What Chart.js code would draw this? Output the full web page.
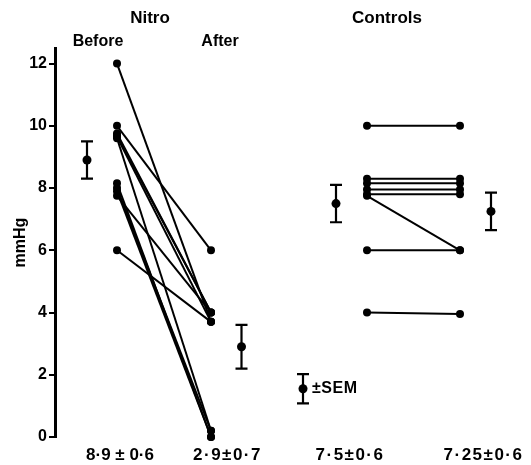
<!DOCTYPE html>
<html><head><meta charset="utf-8">
<script src="https://cdn.jsdelivr.net/npm/chart.js@4.4.0/dist/chart.umd.min.js"></script>
<style>html,body{margin:0;padding:0;background:#fff}</style>
</head><body><canvas id="c" width="531" height="465"></canvas>
<script>
// ---- data ----
const yTicks = [0, 2, 4, 6, 8, 10, 12];
const nitroBefore = [12.0, 10.0, 9.75, 9.7, 9.65, 9.6, 8.15, 8.0, 7.9, 7.75, 6.0];
const nitroAfter  = [3.7, 6.0, 4.0, 4.0, 3.7, 0.2, 0.0, 0.2, 0.0, 4.0, 3.7];
const ctrlBefore  = [10.0, 8.3, 8.15, 7.95, 7.8, 7.75, 6.0, 4.0];
const ctrlAfter   = [10.0, 8.3, 8.15, 7.95, 7.8, 6.0, 6.0, 3.95];
const groupMeans  = [8.9, 2.9, 7.5, 7.25];
const groupSEM    = [0.6, 0.7, 0.6, 0.6];
const summaryLabels = ['8·9 ± 0·6', '2·9±0·7', '7·5±0·6', '7·25±0·6'];
const semKeyMean = 1.55, semKeyHalf = 0.47;
const semKeyText = '±SEM';
const groupTitles = ['Nitro', 'Controls'];
const phaseTitles = ['Before', 'After'];

// ---- layout slots on the (hidden) x scale ----
const X = {nitroMean: 3.2, nitroBefore: 6.2, nitroAfter: 15.6, nitroAfterMean: 18.65,
           semKey: 24.8, ctrlMean: 28.1, ctrlBefore: 31.2, ctrlAfter: 40.5, ctrlAfterMean: 43.6};
const meanSlots = ['nitroMean', 'nitroAfterMean', 'ctrlMean', 'ctrlAfterMean'];
const labelSlots = [6.5, 17.25, 29.5, 42.85];
const titleSlots = [9.5, 33.2];
const phaseSlots = [4.3, 16.5];

const FONT = "'Liberation Sans', Arial, sans-serif";

const datasets = [];
function pairSets(b, a, xb, xa) {
  b.forEach((v, i) => {
    datasets.push({
      type: 'scatter', showLine: true, clip: false,
      data: [{x: xb, y: v}, {x: xa, y: a[i]}],
      borderColor: '#000', borderWidth: 2,
      pointRadius: 4, pointBackgroundColor: '#000', pointBorderWidth: 0
    });
  });
}
pairSets(nitroBefore, nitroAfter, X.nitroBefore, X.nitroAfter);
pairSets(ctrlBefore, ctrlAfter, X.ctrlBefore, X.ctrlAfter);
datasets.push({
  type: 'scatter', clip: false,
  data: meanSlots.map((s, i) => ({x: X[s], y: groupMeans[i]})).concat([{x: X.semKey, y: semKeyMean}]),
  pointRadius: 4.5, pointBackgroundColor: '#000', pointBorderWidth: 0
});

const errorBars = {
  id: 'errorBars',
  afterDatasetsDraw(chart) {
    const {ctx, scales: {x, y}} = chart;
    const items = meanSlots.map((s, i) => ({x: X[s], m: groupMeans[i], e: groupSEM[i]}))
      .concat([{x: X.semKey, m: semKeyMean, e: semKeyHalf}]);
    ctx.save();
    ctx.strokeStyle = '#000'; ctx.lineWidth = 2.2;
    items.forEach(it => {
      const px = x.getPixelForValue(it.x);
      const t = y.getPixelForValue(it.m + it.e), b = y.getPixelForValue(it.m - it.e);
      ctx.beginPath();
      ctx.moveTo(px, t); ctx.lineTo(px, b);
      ctx.moveTo(px - 6, t); ctx.lineTo(px + 6, t);
      ctx.moveTo(px - 6, b); ctx.lineTo(px + 6, b);
      ctx.stroke();
    });
    ctx.restore();
  }
};

const texts = {
  id: 'texts',
  afterDraw(chart) {
    const {ctx, scales: {x, y}} = chart;
    ctx.save();
    ctx.fillStyle = '#000';
    ctx.textBaseline = 'middle';
    ctx.textAlign = 'center';
    ctx.font = 'bold 17px ' + FONT;
    groupTitles.forEach((t, i) => ctx.fillText(t, x.getPixelForValue(titleSlots[i]), y.getPixelForValue(13.47)));
    ctx.font = 'bold 16px ' + FONT;
    phaseTitles.forEach((t, i) => ctx.fillText(t, x.getPixelForValue(phaseSlots[i]), y.getPixelForValue(12.7)));
    ctx.font = 'bold 17px ' + FONT;
    summaryLabels.forEach((t, i) => {
      ctx.letterSpacing = i === 0 ? '0px' : '1.5px';
      ctx.fillText(t, x.getPixelForValue(labelSlots[i]), y.getPixelForValue(-0.58));
    });
    ctx.letterSpacing = '0.5px';
    ctx.textAlign = 'left';
    ctx.font = 'bold 16px ' + FONT;
    ctx.fillText(semKeyText, x.getPixelForValue(X.semKey) + 9, y.getPixelForValue(semKeyMean));
    ctx.restore();
  }
};

new Chart(document.getElementById('c'), {
  data: {datasets},
  options: {
    responsive: false, animation: false, devicePixelRatio: 1,
    layout: {padding: {top: 48, bottom: 28, left: 0, right: 6}},
    plugins: {legend: {display: false}, tooltip: {enabled: false}},
    scales: {
      x: {type: 'linear', min: 0, max: 47, display: false},
      y: {
        type: 'linear', min: 0, max: 12.5,
        afterBuildTicks: s => { s.ticks = yTicks.map(v => ({value: v})); },
        afterFit: s => { s.width = 55; },
        border: {display: true, color: '#000', width: 3},
        grid: {display: true, drawOnChartArea: false, drawTicks: true, tickLength: 6, color: '#000', lineWidth: 2},
        ticks: {color: '#000', font: {family: FONT, weight: 'bold', size: 16}, padding: 2},
        title: {display: true, text: 'mmHg', color: '#000', font: {family: FONT, weight: 'bold', size: 16}, padding: {top: 11, bottom: 0}}
      }
    }
  },
  plugins: [errorBars, texts]
});
</script>
</body></html>
